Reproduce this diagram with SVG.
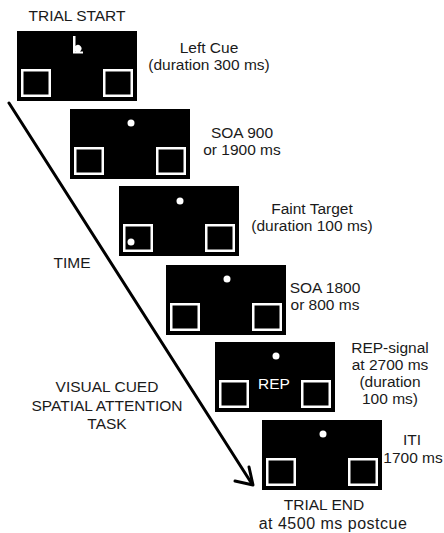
<svg xmlns="http://www.w3.org/2000/svg" xmlns:xlink="http://www.w3.org/1999/xlink" width="444" height="533" viewBox="0 0 444 533">
<style>
  text { font-family: "Liberation Sans", Arial, sans-serif; font-size: 15.5px; fill: #1a1a1a; text-anchor: middle; }
  .scr { fill: #000; }
  .box { fill: #000; stroke: #fff; stroke-width: 2.5; }
  .dot { fill: #fff; }
  .rep { fill: #fff; }
  .wide { font-size: 16px; letter-spacing: 0.5px; }
  .arrow { fill: none; stroke: #000; stroke-width: 3; stroke-linecap: round; stroke-linejoin: round; }
</style>
<defs>
  <g id="screen">
    <rect class="scr" x="0" y="0" width="120" height="70"/>
    <rect class="box" x="5.25" y="39.25" width="27.5" height="25.5"/>
    <rect class="box" x="87.25" y="39.25" width="27.5" height="25.5"/>
  </g>
</defs>

<g id="connectors">
  <line class="arrow" x1="9" y1="103" x2="252" y2="484"/>
  <polyline class="arrow" points="235,481 253,485 249,467"/>
</g>

<g id="label-trial-start"><text x="77" y="21">TRIAL START</text></g>
<g id="label-time"><text x="72" y="268">TIME</text></g>
<g id="label-task">
  <text x="107" y="392">VISUAL CUED</text>
  <text x="107" y="411">SPATIAL ATTENTION</text>
  <text x="107" y="429">TASK</text>
</g>

<g id="screen-1" transform="translate(17,31)">
  <use xlink:href="#screen"/>
  <path fill="#fff" d="M56,5 h2.5 v10 a3.5,3.5 0 1 1 0,5 v0.5 h7.5 v2 h-10 z"/>
</g>
<g id="label-1">
  <text x="209" y="53">Left Cue</text>
  <text x="209" y="70">(duration 300 ms)</text>
</g>

<g id="screen-2" transform="translate(70,109)">
  <use xlink:href="#screen"/>
  <circle class="dot" cx="61" cy="14" r="3.5"/>
</g>
<g id="label-2">
  <text x="242" y="138">SOA 900</text>
  <text x="242" y="155">or 1900 ms</text>
</g>

<g id="screen-3" transform="translate(119,186)">
  <use xlink:href="#screen"/>
  <circle class="dot" cx="61" cy="15" r="3.5"/>
  <circle class="dot" cx="12" cy="56" r="3.5"/>
</g>
<g id="label-3">
  <text x="312" y="214">Faint Target</text>
  <text x="312" y="231">(duration 100 ms)</text>
</g>

<g id="screen-4" transform="translate(166,265)">
  <use xlink:href="#screen"/>
  <circle class="dot" cx="61" cy="14" r="3.5"/>
</g>
<g id="label-4">
  <text x="325" y="293">SOA 1800</text>
  <text x="325" y="310">or 800 ms</text>
</g>

<g id="screen-5" transform="translate(215,342)">
  <use xlink:href="#screen"/>
  <circle class="dot" cx="61" cy="14" r="3.5"/>
  <text class="rep" x="59" y="47">REP</text>
</g>
<g id="label-5">
  <text x="390" y="353">REP-signal</text>
  <text x="390" y="370">at 2700 ms</text>
  <text x="390" y="387">(duration</text>
  <text x="390" y="404">100 ms)</text>
</g>

<g id="screen-6" transform="translate(262,420)">
  <use xlink:href="#screen"/>
  <circle class="dot" cx="61" cy="14" r="3.5"/>
</g>
<g id="label-6">
  <text x="412" y="445">ITI</text>
  <text x="413" y="463">1700 ms</text>
</g>
<g id="label-trial-end">
  <text x="324" y="510">TRIAL END</text>
  <text class="wide" x="333" y="529">at 4500 ms postcue</text>
</g>
</svg>
